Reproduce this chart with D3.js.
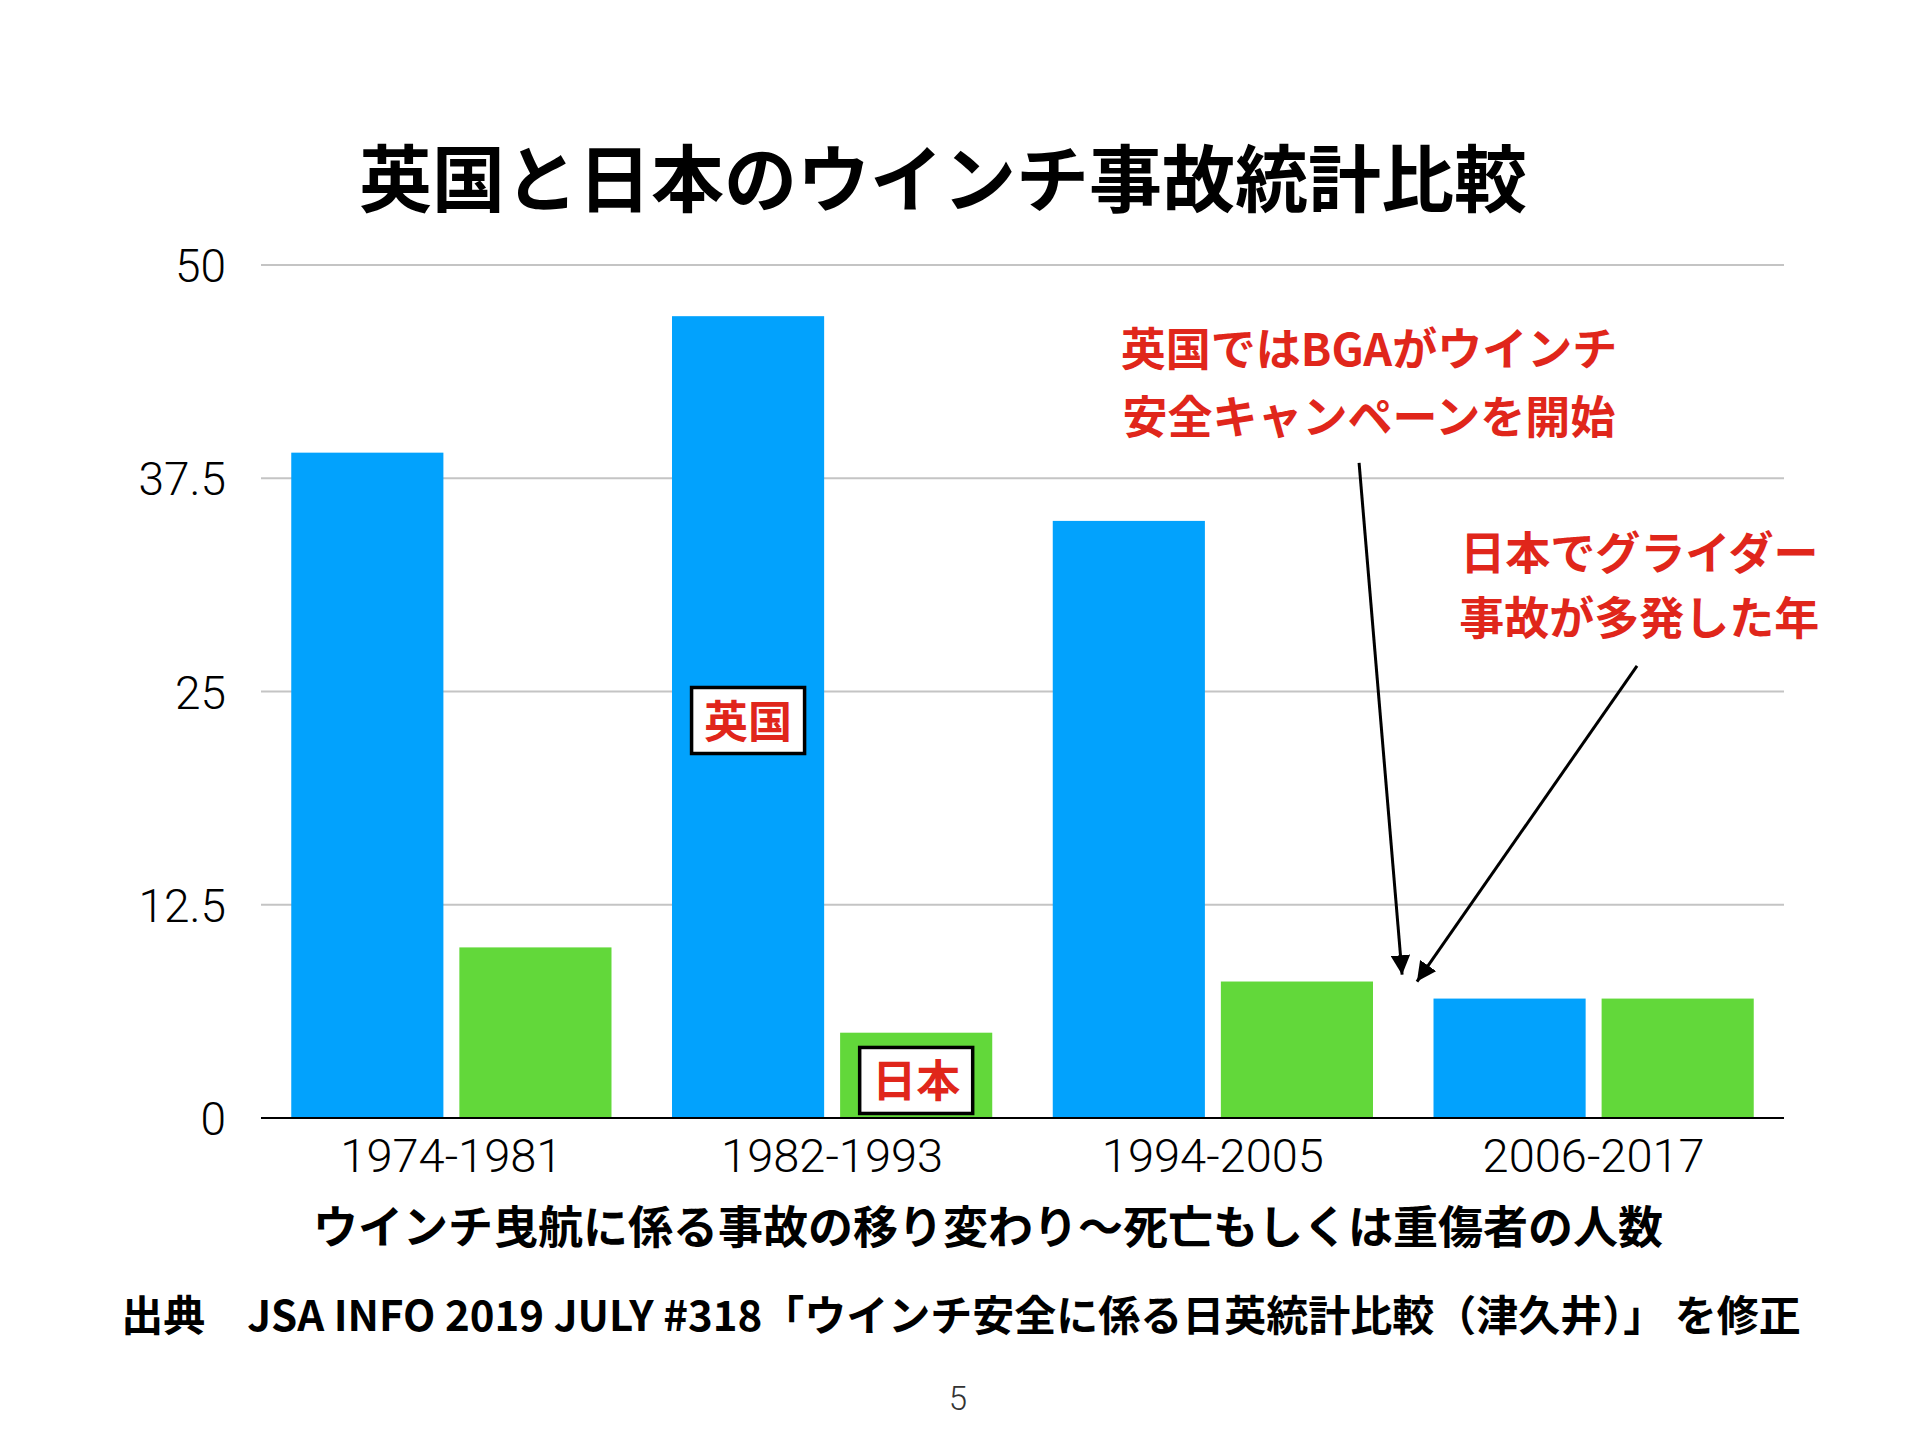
<!DOCTYPE html>
<html>
<head>
<meta charset="utf-8">
<script src="https://cdn.jsdelivr.net/npm/d3@7"></script>
<style>
  body { margin: 0; background: #fff; }
  svg text { font-family: "Noto Sans CJK JP", "Noto Sans", sans-serif; }
  .tick-label { font-family: Roboto, "Noto Sans", sans-serif; font-weight: 300; fill: #000; }
  .jp-bold { font-weight: 700; fill: #000; }
  .note { font-weight: 700; fill: #e0261b; }
</style>
</head>
<body>
<div id="chart"></div>
<script>
// data
const periods = ["1974-1981", "1982-1993", "1994-2005", "2006-2017"];
const series = ["英国", "日本"];
const ukValues = [39, 47, 35, 7];
const jpValues = [10, 5, 8, 7];
const yTicks = [0, 12.5, 25, 37.5, 50];
const yTickLabels = ["0", "12.5", "25", "37.5", "50"];

const titleText = "英国と日本のウインチ事故統計比較";
const xTitleText = "ウインチ曳航に係る事故の移り変わり〜死亡もしくは重傷者の人数";
const sourceText = "出典　JSA INFO 2019 JULY #318「ウインチ安全に係る日英統計比較（津久井）」 を修正";
const pageNumber = "5";

// boxed series labels: period, series, value at box centre
const boxLabels = [
  {text: "英国", period: "1982-1993", series: "英国", value: 23.3},
  {text: "日本", period: "1982-1993", series: "日本", value: 2.2}
];
// red notes: position in category units (0..4) and value units
const notes = [
  {lines: ["英国ではBGAがウインチ", "安全キャンペーンを開始"], cx: 2.91, values: [45.1, 41.1]},
  {lines: ["日本でグライダー", "事故が多発した年"], cx: 3.62, values: [33.1, 29.3]}
];
// arrows: from (cx, value) to (cx, value)
const arrows = [
  {x1: 2.884, v1: 38.4, x2: 2.997, v2: 8.4},
  {x1: 3.614, v1: 26.5, x2: 3.036, v2: 8.0}
];

const W = 1920, H = 1440;
const plotLeft = 261, plotRight = 1784, plotTop = 265, plotBottom = 1118;

const svg = d3.select("#chart").append("svg")
  .attr("width", W).attr("height", H);

svg.append("defs").append("marker")
  .attr("id", "arrowhead")
  .attr("viewBox", "0 0 10 10")
  .attr("refX", 10).attr("refY", 5)
  .attr("markerWidth", 6.5).attr("markerHeight", 6.5)
  .attr("markerUnits", "strokeWidth")
  .attr("orient", "auto")
  .append("path").attr("d", "M0,0 L10,5 L0,10 Z").attr("fill", "#000");

let x0 = d3.scaleBand().domain(periods).range([plotLeft, plotRight]).padding(0);
let x1 = d3.scaleBand().domain(series).range([0, x0.bandwidth()])
  .paddingInner(0.095).paddingOuter(0.18);
let xCat = d3.scaleLinear().domain([0, periods.length]).range([plotLeft, plotRight]);
let y = d3.scaleLinear().domain([0, 50]).range([plotBottom, plotTop]);

const colors = {"英国": "#02a2fd", "日本": "#62d83a"};

// title
svg.append("text")
  .attr("class", "jp-bold")
  .attr("x", 943).attr("y", 206)
  .attr("text-anchor", "middle")
  .style("font-size", "73px")
  .text(titleText);

// grid lines
svg.append("g").selectAll("line").data(yTicks.filter(d => d > 0)).enter().append("line")
  .attr("x1", plotLeft).attr("x2", plotRight)
  .attr("y1", d => y(d)).attr("y2", d => y(d))
  .attr("stroke", "#c4c4c4").attr("stroke-width", 2);

// y tick labels
svg.append("g").selectAll("text").data(yTicks).enter().append("text")
  .attr("class", "tick-label")
  .attr("x", 226)
  .attr("y", d => y(d) + 17)
  .attr("text-anchor", "end")
  .style("font-size", "46px")
  .text((d, i) => yTickLabels[i]);

// bars
let rows = periods.map((p, i) => ({period: p, values: [
  {series: "英国", value: ukValues[i]},
  {series: "日本", value: jpValues[i]}
]}));

let groups = svg.append("g").selectAll("g").data(rows).enter().append("g")
  .attr("transform", d => "translate(" + x0(d.period) + ",0)");

groups.selectAll("rect").data(d => d.values).enter().append("rect")
  .attr("x", d => x1(d.series))
  .attr("width", x1.bandwidth())
  .attr("y", d => y(d.value))
  .attr("height", d => y(0) - y(d.value))
  .attr("fill", d => colors[d.series]);

// zero axis
svg.append("line")
  .attr("x1", plotLeft).attr("x2", plotRight)
  .attr("y1", y(0)).attr("y2", y(0))
  .attr("stroke", "#000").attr("stroke-width", 2);

// x labels
svg.append("g").selectAll("text").data(periods).enter().append("text")
  .attr("class", "tick-label")
  .attr("x", d => x0(d) + x0.bandwidth() / 2)
  .attr("y", 1172)
  .attr("text-anchor", "middle")
  .style("font-size", "47px")
  .text(d => d);

// x title
svg.append("text")
  .attr("class", "jp-bold")
  .attr("x", 988).attr("y", 1244)
  .attr("text-anchor", "middle")
  .style("font-size", "45px")
  .text(xTitleText);

// source
svg.append("text")
  .attr("class", "jp-bold")
  .attr("x", 961).attr("y", 1331)
  .attr("text-anchor", "middle")
  .style("font-size", "42px")
  .text(sourceText);

// page number
svg.append("text")
  .attr("class", "tick-label")
  .attr("x", 958).attr("y", 1410)
  .attr("text-anchor", "middle")
  .style("font-size", "33px")
  .style("fill", "#333")
  .text(pageNumber);

// boxed labels
let boxW = 113, boxH = 66;
let boxes = svg.append("g").selectAll("g").data(boxLabels).enter().append("g")
  .attr("transform", d => "translate(" + (x0(d.period) + x1(d.series) + x1.bandwidth() / 2) + "," + y(d.value) + ")");
boxes.append("rect")
  .attr("x", -boxW / 2).attr("y", -boxH / 2)
  .attr("width", boxW).attr("height", boxH)
  .attr("fill", "#fff").attr("stroke", "#000").attr("stroke-width", 3.5);
boxes.append("text")
  .attr("class", "note")
  .attr("y", 17)
  .attr("text-anchor", "middle")
  .style("font-size", "44px")
  .text(d => d.text);

// red notes
notes.forEach(n => {
  svg.append("g").selectAll("text").data(n.lines).enter().append("text")
    .attr("class", "note")
    .attr("x", xCat(n.cx))
    .attr("y", (d, i) => y(n.values[i]) + 17)
    .attr("text-anchor", "middle")
    .style("font-size", "45px")
    .text(d => d);
});

// arrows
svg.append("g").selectAll("line").data(arrows).enter().append("line")
  .attr("x1", d => xCat(d.x1)).attr("y1", d => y(d.v1))
  .attr("x2", d => xCat(d.x2)).attr("y2", d => y(d.v2))
  .attr("stroke", "#000").attr("stroke-width", 3)
  .attr("marker-end", "url(#arrowhead)");
</script>
</body>
</html>
